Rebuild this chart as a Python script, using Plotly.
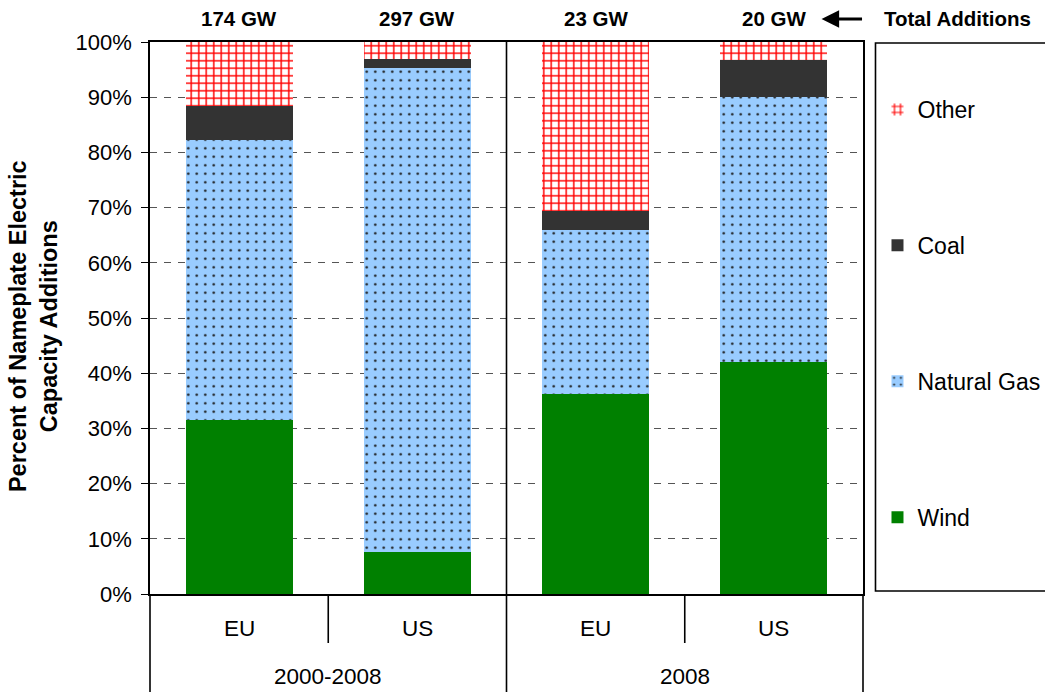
import plotly.graph_objects as go

# Capacity additions by source, share of total (%)
regions = ["EU", "US", "EU", "US"]
periods = ["2000-2008", "2000-2008", "2008", "2008"]
wind = [31.5, 7.6, 36.2, 42.0]
natural_gas = [50.7, 87.7, 29.7, 48.0]
coal = [6.2, 1.6, 3.5, 6.7]
other = [11.6, 3.1, 30.6, 3.3]
total_gw = [174, 297, 23, 20]
y_ticks = [0, 10, 20, 30, 40, 50, 60, 70, 80, 90, 100]
y_tick_labels = [f"{v}%" for v in y_ticks]

FONT = "Liberation Sans, Arial, sans-serif"
W, H = 1045, 692
ML, MR, MT, MB = 150, 181.5, 42, 98
PW, PH = W - ML - MR, H - MT - MB


def px_x(p):
    return (p - ML) / PW


def px_y(p):
    return (H - MB - p) / PH


cats = [f"{r} {p}" for r, p in zip(regions, periods)]

fig = go.Figure()
series = [
    ("Wind", wind, 4, dict(color="#008000")),
    ("Natural Gas", natural_gas, 3, dict(color="#99CCFF", pattern=dict(
        shape=".", fgcolor="#1a1a1a", bgcolor="#99CCFF", size=8.5, solidity=0.07, fillmode="replace"))),
    ("Coal", coal, 2, dict(color="#333333")),
    ("Other", other, 1, dict(color="#ffffff", pattern=dict(
        shape="+", fgcolor="#ff0000", bgcolor="#ffffff", size=7.5, solidity=0.35, fillmode="replace"))),
]
for name, vals, rank, marker in series:
    fig.add_trace(go.Bar(
        x=cats, y=vals, name=name, legendgroup=name, legendrank=rank,
        marker=dict(line=dict(width=0), **marker),
        hoverinfo="skip",
    ))

annotations = []
# Totals above each bar
for i, t in enumerate(total_gw):
    annotations.append(dict(
        x=i, xref="x", y=px_y(19), yref="paper", text=f"<b>{t} GW</b>",
        showarrow=False, font=dict(family=FONT, size=20.5, color="black"),
        xanchor="center", yanchor="middle"))
annotations.append(dict(
    x=px_x(958), xref="paper", y=px_y(19), yref="paper", text="<b>Total Additions</b>",
    showarrow=False, font=dict(family=FONT, size=20.5, color="black"),
    xanchor="center", yanchor="middle"))
annotations.append(dict(
    x=px_x(822), xref="paper", y=px_y(19), yref="paper", text="",
    showarrow=True, ax=42, ay=0, arrowhead=2, arrowsize=1.1, arrowwidth=3.2,
    arrowcolor="black", standoff=0, startstandoff=0))
# Category labels
for i, r in enumerate(regions):
    annotations.append(dict(
        x=i, xref="x", y=px_y(628), yref="paper", text=r, showarrow=False,
        font=dict(family=FONT, size=22.5, color="black"),
        xanchor="center", yanchor="middle"))
for label, pos in [("2000-2008", 0.5), ("2008", 2.5)]:
    annotations.append(dict(
        x=pos, xref="x", y=px_y(676), yref="paper", text=label, showarrow=False,
        font=dict(family=FONT, size=22.5, color="black"),
        xanchor="center", yanchor="middle"))
# Y-axis title
annotations.append(dict(
    x=px_x(33), xref="paper", y=px_y(326), yref="paper",
    text="<b>Percent of Nameplate Electric<br>Capacity Additions</b>",
    textangle=-90, showarrow=False,
    font=dict(family=FONT, size=23.5, color="black"),
    xanchor="center", yanchor="middle"))

line = dict(color="black", width=1.6)
shapes = [
    # divider between periods, through plot and label rows
    dict(type="line", xref="x", yref="paper", x0=1.5, x1=1.5, y0=px_y(692), y1=1, line=line),
    # dividers between regions in the label row
    dict(type="line", xref="x", yref="paper", x0=0.5, x1=0.5, y0=px_y(643), y1=0, line=line),
    dict(type="line", xref="x", yref="paper", x0=2.5, x1=2.5, y0=px_y(643), y1=0, line=line),
    # outer edges of label rows
    dict(type="line", xref="paper", yref="paper", x0=0, x1=0, y0=px_y(692), y1=0, line=line),
    dict(type="line", xref="paper", yref="paper", x0=1, x1=1, y0=px_y(692), y1=0, line=line),
    # legend frame
    dict(type="rect", xref="paper", yref="paper", x0=px_x(876), x1=px_x(1070),
         y0=px_y(591), y1=px_y(43), line=line, fillcolor="rgba(0,0,0,0)"),
]

fig.update_layout(
    width=W, height=H,
    margin=dict(l=ML, r=MR, t=MT, b=MB, pad=0, autoexpand=False),
    paper_bgcolor="white", plot_bgcolor="white",
    barmode="stack", bargap=0.4,
    font=dict(family=FONT, size=22, color="black"),
    showlegend=True,
    legend=dict(
        x=px_x(878), xanchor="left", y=px_y(88), yanchor="top",
        traceorder="grouped", tracegroupgap=103,
        font=dict(family=FONT, size=23, color="black"),
        bgcolor="rgba(0,0,0,0)", borderwidth=0,
    ),
    xaxis=dict(
        type="category", range=[-0.5, 3.5], showticklabels=False,
        showline=True, linecolor="black", linewidth=1.6, mirror=True,
        ticks="", showgrid=False, zeroline=False,
    ),
    yaxis=dict(
        range=[0, 100], tickvals=y_ticks, ticktext=y_tick_labels,
        showline=True, linecolor="black", linewidth=1.6, mirror=True,
        ticks="outside", ticklen=7, tickwidth=1.3, tickcolor="black",
        ticklabelstandoff=5,
        showgrid=True, gridcolor="#555555", gridwidth=1, griddash="7px,7px",
        zeroline=False, tickfont=dict(family=FONT, size=22, color="black"),
    ),
    annotations=annotations,
    shapes=shapes,
)

fig.write_html("out.html")
